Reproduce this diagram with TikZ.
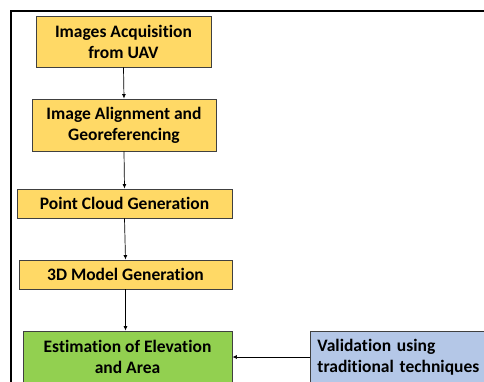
\documentclass[tikz,border=0pt]{standalone}
\usepackage{fontspec}
\setmainfont[Ligatures=NoCommon]{Carlito}
\usetikzlibrary{arrows.meta}
\definecolor{boxyellow}{HTML}{FFD966}
\definecolor{boxgreen}{HTML}{92D050}
\definecolor{boxblue}{HTML}{B4C7E7}
\definecolor{boxline}{HTML}{404040}
\tikzset{
  stepbox/.style={draw=boxline, line width=0.9pt, fill=boxyellow, inner sep=0pt,
    align=center, font=\fontsize{17.5}{21}\selectfont\bfseries},
  arr/.style={draw=black, line width=0.7pt, -{Latex[length=4.5pt,width=4pt]}},
}
\begin{document}
\begin{tikzpicture}[x=1pt,y=-1pt]
\useasboundingbox (0,0) rectangle (484,381);
\clip (0,0) rectangle (484,381);
\fill[white] (0,0) rectangle (484,381);
% frame
\draw[line width=1.4pt, black] (11,400) -- (11,11) -- (500,11);
\node[stepbox, minimum width=175pt, minimum height=51pt] (b1) at (123.5,41.5) {Images Acquisition\\from UAV};
\node[stepbox, minimum width=184pt, minimum height=52pt] (b2) at (124,125) {Image Alignment and\\Georeferencing};
\node[stepbox, minimum width=215pt, minimum height=29pt] (b3) at (124.5,203.5) {Point Cloud Generation};
\node[stepbox, minimum width=213pt, minimum height=29pt] (b4) at (125.5,274.5) {3D Model Generation};
\node[stepbox, fill=boxgreen, minimum width=209pt, minimum height=52pt] (b5) at (127.5,357) {Estimation of Elevation\\and Area};
\node[stepbox, fill=boxblue, anchor=west, minimum width=200pt, minimum height=52pt,
  text width=186pt, align=left, inner xsep=7pt] (b6) at (310,357) {Validation using\\traditional techniques};
\draw[arr] (b1.south) -- (b2.north);
\draw[arr] (b2.south) -- (b3.north);
\draw[arr] (b3.south) -- (b4.north);
\draw[arr] (b4.south) -- (b4.south |- b5.north);
\draw[arr] (b6.west) -- (b5.east);
\end{tikzpicture}
\end{document}
